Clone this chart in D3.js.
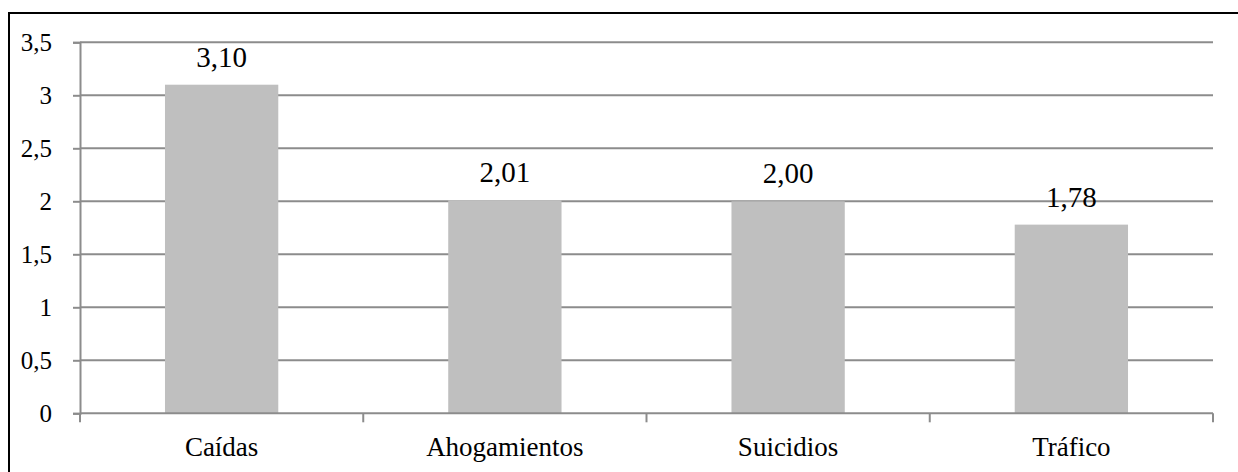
<!DOCTYPE html>
<html>
<head>
<meta charset="utf-8">
<script src="https://cdn.jsdelivr.net/npm/d3@7"></script>
<style>
  html, body { margin: 0; padding: 0; background: #fff; }
  svg { display: block; }
</style>
</head>
<body>
<svg id="chart" width="1238" height="472"></svg>
<script>
const categories = ["Caídas", "Ahogamientos", "Suicidios", "Tráfico"];
const values = [3.10, 2.01, 2.00, 1.78];
const valueLabels = ["3,10", "2,01", "2,00", "1,78"];
const yTicks = [0, 0.5, 1, 1.5, 2, 2.5, 3, 3.5];
const yTickLabels = ["0", "0,5", "1", "1,5", "2", "2,5", "3", "3,5"];

const svg = d3.select("#chart");
const W = 1238, H = 472;
const margin = { left: 80, right: 1238 - 1213, top: 42.3, bottom: 472 - 413.3 };
const font = "'Liberation Serif', 'Times New Roman', serif";
const gridColor = "#8c8c8c";

// outer frame
svg.append("rect")
  .attr("x", 9).attr("y", 13)
  .attr("width", 1250).attr("height", 480)
  .attr("fill", "none").attr("stroke", "#000").attr("stroke-width", 2);

const x = d3.scaleBand()
  .domain(categories)
  .range([margin.left, W - margin.right])
  .paddingInner(0.6)
  .paddingOuter(0.3);

const xOuter = d3.scaleBand()
  .domain(categories)
  .range([margin.left, W - margin.right])
  .padding(0);

const y = d3.scaleLinear()
  .domain([0, 3.5])
  .range([H - margin.bottom, margin.top]);

// gridlines
svg.append("g")
  .selectAll("line")
  .data(yTicks.filter(d => d > 0))
  .join("line")
  .attr("x1", margin.left).attr("x2", W - margin.right)
  .attr("y1", d => y(d)).attr("y2", d => y(d))
  .attr("stroke", gridColor).attr("stroke-width", 2);

// bars
svg.append("g")
  .selectAll("rect")
  .data(values)
  .join("rect")
  .attr("x", (d, i) => x(categories[i]))
  .attr("width", x.bandwidth())
  .attr("y", d => y(d))
  .attr("height", d => y(0) - y(d))
  .attr("fill", "#bfbfbf");

// y axis
const yAxis = d3.axisLeft(y)
  .tickValues(yTicks)
  .tickFormat((d, i) => yTickLabels[i])
  .tickSize(7)
  .tickPadding(21);
const gy = svg.append("g")
  .attr("transform", `translate(${margin.left},0)`)
  .call(yAxis);
gy.select(".domain").attr("stroke", gridColor).attr("stroke-width", 2);
gy.selectAll(".tick line").attr("stroke", gridColor).attr("stroke-width", 2);
gy.selectAll(".tick text")
  .attr("fill", "#000")
  .style("font-family", font)
  .style("font-size", "25px");

// x axis
const gx = svg.append("g")
  .attr("transform", `translate(0,${y(0)})`);
gx.append("line")
  .attr("x1", margin.left).attr("x2", W - margin.right)
  .attr("y1", 0).attr("y2", 0)
  .attr("stroke", gridColor).attr("stroke-width", 2);
const boundaries = categories.map(c => xOuter(c)).concat([W - margin.right]);
gx.selectAll("line.tk")
  .data(boundaries)
  .join("line")
  .attr("class", "tk")
  .attr("x1", d => d).attr("x2", d => d)
  .attr("y1", 0).attr("y2", 9)
  .attr("stroke", gridColor).attr("stroke-width", 2);
gx.selectAll("text")
  .data(categories)
  .join("text")
  .attr("x", d => xOuter(d) + xOuter.bandwidth() / 2)
  .attr("y", 43)
  .attr("text-anchor", "middle")
  .attr("fill", "#000")
  .style("font-family", font)
  .style("font-size", "27px")
  .text(d => d);

// value labels
svg.append("g")
  .selectAll("text")
  .data(values)
  .join("text")
  .attr("x", (d, i) => x(categories[i]) + x.bandwidth() / 2)
  .attr("y", d => y(d) - 18)
  .attr("text-anchor", "middle")
  .attr("fill", "#000")
  .style("font-family", font)
  .style("font-size", "29px")
  .text((d, i) => valueLabels[i]);
</script>
</body>
</html>
